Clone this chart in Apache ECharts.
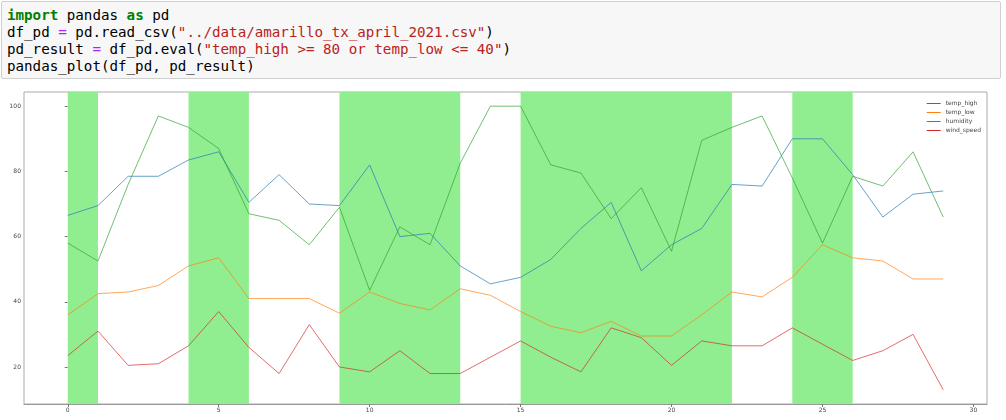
<!DOCTYPE html>
<html>
<head>
<meta charset="utf-8">
<script src="https://cdn.jsdelivr.net/npm/echarts@6/dist/echarts.min.js"></script>
<style>
    body { margin: 0; background: #fff; width: 1006px; height: 420px; overflow: hidden; position: relative; }
    #chart { position: absolute; left: 0; top: 0; width: 1006px; height: 420px; }
    #code {
        position: absolute; left: 1px; top: 1px; width: 1000px; height: 78px;
        background: #f7f7f7; border: 1px solid #cfcfcf; border-radius: 2px; box-sizing: border-box;
    }
    #code pre {
        margin: 0; padding: 5px 0 0 5px;
        font-family: 'DejaVu Sans Mono', monospace; font-size: 14.2px; line-height: 17px; color: #000;
    }
    .kw { color: #008000; font-weight: bold; }
    .op { color: #aa22ff; }
    .st { color: #ba2121; }
</style>
</head>
<body>
<div id="chart"></div>
<div id="code"><pre><span class="kw">import</span> pandas <span class="kw">as</span> pd
df_pd <span class="op">=</span> pd.read_csv(<span class="st">"../data/amarillo_tx_april_2021.csv"</span>)
pd_result <span class="op">=</span> df_pd.eval(<span class="st">"temp_high &gt;= 80 or temp_low &lt;= 40"</span>)
pandas_plot(df_pd, pd_result)</pre></div>
<script>
    // 数据
    var days = [0, 1, 2, 3, 4, 5, 6, 7, 8, 9, 10, 11, 12, 13, 14, 15, 16, 17, 18, 19, 20, 21, 22, 23, 24, 25, 26, 27, 28, 29];
    var tempHigh = [66.5, 69.5, 78.5, 78.5, 83.5, 86, 70.5, 79, 70, 69.5, 82, 60, 61, 51, 45.5, 47.5, 53, 62.5, 70.5, 49.5, 57.5, 62.5, 76, 75.5, 90, 90, 79, 66, 73, 74];
    var tempLow = [36, 42.5, 43, 45, 51, 53.5, 41, 41, 41, 36.5, 43, 39.5, 37.5, 44, 42, 37, 32.5, 30.5, 34, 29.5, 29.5, 36, 43, 41.5, 47.5, 57.5, 53.5, 52.5, 47, 47];
    var humidity = [58, 52.5, 76, 97, 93.5, 87, 67, 65, 57.5, 69, 43.5, 63, 57.5, 82.5, 100, 100, 82, 79.5, 65.5, 75, 55.5, 89.5, 93.5, 97, 78, 58, 78.5, 75.5, 86, 66];
    var windSpeed = [23.5, 31, 20.5, 21, 26.5, 37, 26, 18, 33, 20, 18.5, 25, 18, 18, 23, 28, 23, 18.5, 32, 29, 20.5, 28, 26.5, 26.5, 32, 27, 22, 25, 30, 13];
    // pd_result 为 True 的行
    var shadedDays = [0, 4, 5, 9, 10, 11, 12, 15, 16, 17, 18, 19, 20, 21, 24, 25];
    var xTicks = [0, 5, 10, 15, 20, 25, 30];
    var yTicks = [20, 40, 60, 80, 100];
    var names = ['temp_high', 'temp_low', 'humidity', 'wind_speed'];

    function pairs(vals) {
        return days.map(function (d, i) { return [d, vals[i]]; });
    }

    // 连续的天合并成一块, 避免相邻区块之间出现细缝
    var spans = [];
    shadedDays.forEach(function (d) {
        var last = spans[spans.length - 1];
        if (last && last[1] === d) {
            last[1] = d + 1;
        } else {
            spans.push([d, d + 1]);
        }
    });

    var chart = echarts.init(document.getElementById('chart'));
    var lineColors = ['#1f77b4', '#ff7f0e', '#2ca02c', '#d62728'];
    var seriesVals = [tempHigh, tempLow, humidity, windSpeed];

    var series = [{
        name: 'spans',
        type: 'line',
        z: 1,
        silent: true,
        symbol: 'none',
        lineStyle: { opacity: 0 },
        data: pairs(tempHigh),
        markArea: {
            silent: true,
            itemStyle: { color: '#90ee90', opacity: 1 },
            data: spans.map(function (s) { return [{ xAxis: s[0] }, { xAxis: s[1] }]; })
        }
    }];
    names.forEach(function (n, i) {
        series.push({
            name: n,
            type: 'line',
            z: 3,
            symbol: 'none',
            color: lineColors[i],
            lineStyle: { width: 1, opacity: 0.68 },
            data: pairs(seriesVals[i])
        });
    });

    var option = {
        backgroundColor: '#fff',
        animation: false,
        grid: {
            left: 24, right: 19, top: 92, bottom: 16,
            show: true, borderColor: '#aaa', borderWidth: 1
        },
        legend: {
            data: names,
            orient: 'vertical',
            right: 20,
            top: 95,
            icon: 'rect',
            itemWidth: 14,
            itemHeight: 1,
            itemGap: 2,
            textStyle: { fontSize: 6, lineHeight: 7, color: '#444', fontFamily: 'DejaVu Sans' }
        },
        xAxis: {
            type: 'value',
            min: -1.45,
            max: 30.45,
            splitLine: { show: false },
            axisLine: { lineStyle: { color: '#999' } },
            axisTick: { show: true, length: 3, customValues: xTicks, lineStyle: { color: '#777' } },
            axisLabel: { customValues: xTicks, fontSize: 6, color: '#444', margin: 3, fontFamily: 'DejaVu Sans' }
        },
        yAxis: {
            type: 'value',
            min: 8.65,
            max: 104.35,
            splitLine: { show: false },
            axisLine: { show: true, lineStyle: { color: '#999' } },
            axisTick: { show: true, length: 3, customValues: yTicks, lineStyle: { color: '#777' } },
            axisLabel: { customValues: yTicks, fontSize: 6, color: '#444', margin: 3, fontFamily: 'DejaVu Sans' }
        },
        series: series
    };
    chart.setOption(option);
</script>
</body>
</html>
